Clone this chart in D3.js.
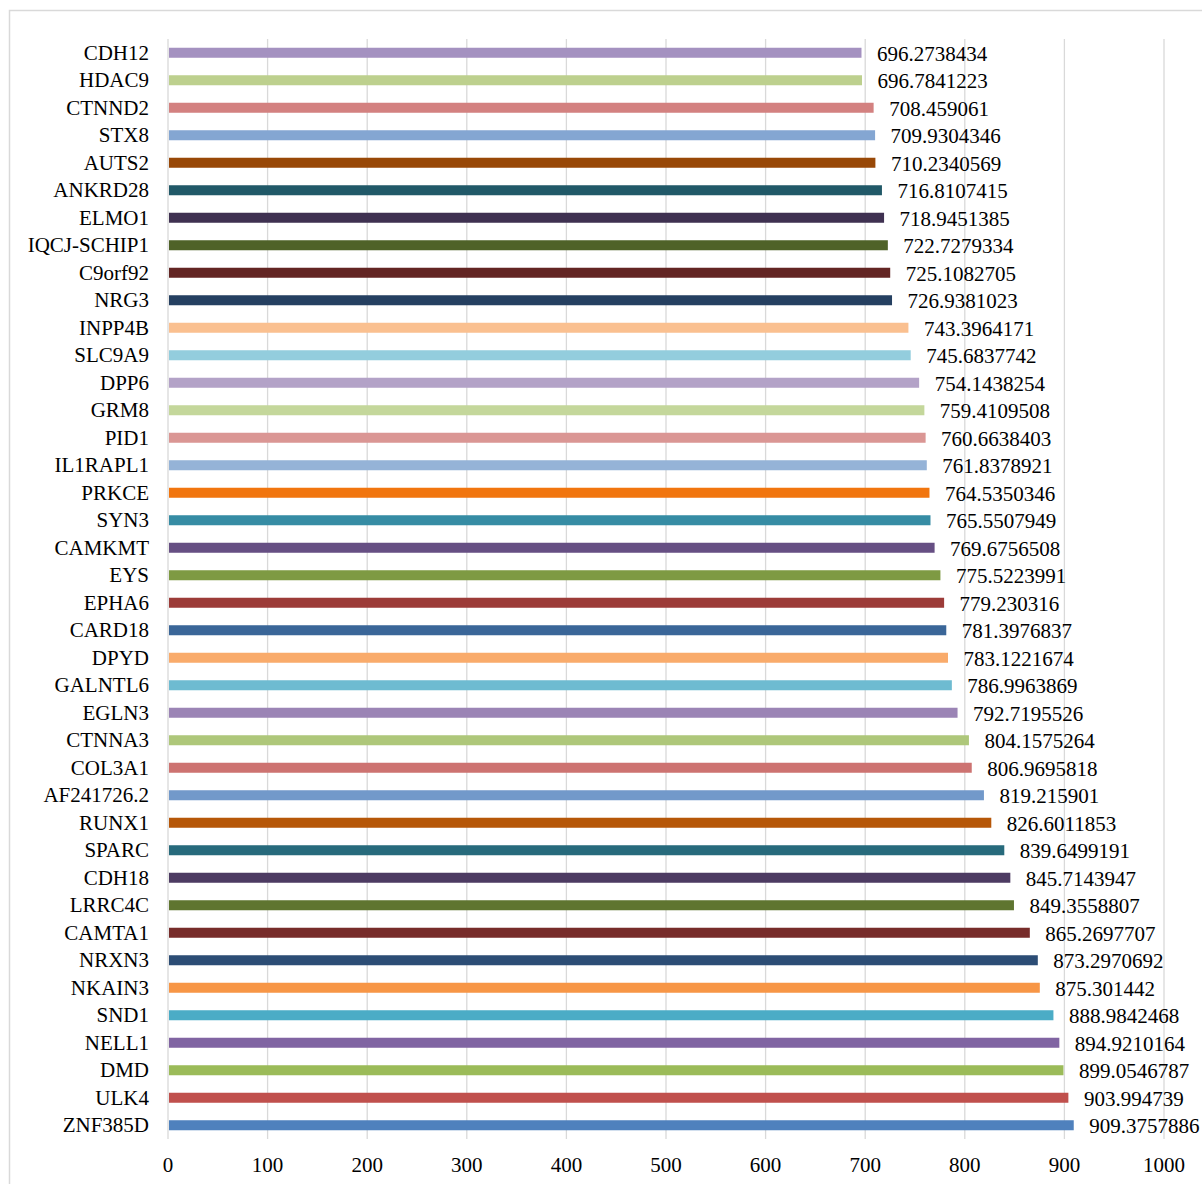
<!DOCTYPE html>
<html>
<head>
<meta charset="utf-8">
<script src="https://cdn.jsdelivr.net/npm/d3@7/dist/d3.min.js"></script>
<style>
  html, body { margin: 0; padding: 0; background: #fff; }
  svg { display: block; }
  text { font-family: "Liberation Serif", "Times New Roman", serif; fill: #000; }
</style>
</head>
<body>
<svg id="chart" width="1202" height="1184"></svg>
<script>
const categories = ["CDH12","HDAC9","CTNND2","STX8","AUTS2","ANKRD28","ELMO1","IQCJ-SCHIP1","C9orf92","NRG3","INPP4B","SLC9A9","DPP6","GRM8","PID1","IL1RAPL1","PRKCE","SYN3","CAMKMT","EYS","EPHA6","CARD18","DPYD","GALNTL6","EGLN3","CTNNA3","COL3A1","AF241726.2","RUNX1","SPARC","CDH18","LRRC4C","CAMTA1","NRXN3","NKAIN3","SND1","NELL1","DMD","ULK4","ZNF385D"];
const values = [696.2738434,696.7841223,708.459061,709.9304346,710.2340569,716.8107415,718.9451385,722.7279334,725.1082705,726.9381023,743.3964171,745.6837742,754.1438254,759.4109508,760.6638403,761.8378921,764.5350346,765.5507949,769.6756508,775.5223991,779.230316,781.3976837,783.1221674,786.9963869,792.7195526,804.1575264,806.9695818,819.215901,826.6011853,839.6499191,845.7143947,849.3558807,865.2697707,873.2970692,875.301442,888.9842468,894.9210164,899.0546787,903.994739,909.3757886];
const valueLabels = ["696.2738434","696.7841223","708.459061","709.9304346","710.2340569","716.8107415","718.9451385","722.7279334","725.1082705","726.9381023","743.3964171","745.6837742","754.1438254","759.4109508","760.6638403","761.8378921","764.5350346","765.5507949","769.6756508","775.5223991","779.230316","781.3976837","783.1221674","786.9963869","792.7195526","804.1575264","806.9695818","819.215901","826.6011853","839.6499191","845.7143947","849.3558807","865.2697707","873.2970692","875.301442","888.9842468","894.9210164","899.0546787","903.994739","909.3757886"];
const colors = ["#A491C0","#BDD08E","#D38180","#84A6D2","#984807","#215968","#3F3151","#4F6228","#632523","#254061","#FAC090","#93CDDD","#B3A2C7","#C4D79B","#DA9694","#95B3D7","#F1750E","#368CA4","#664F83","#7E9A43","#9C3B38","#3A6698","#F9AB6B","#6EBBD1","#9B84B5","#AEC77A","#CD7371","#7299CA","#B65708","#276A7C","#4D3B62","#5F7530","#772C2A","#2C4D75","#F79646","#4BACC6","#8064A2","#9BBB59","#C0504D","#4F81BD"];
const tickValues = [0,100,200,300,400,500,600,700,800,900,1000];

const svg = d3.select("#chart");

// outer chart border
svg.append("rect")
  .attr("x", 9.5).attr("y", 10.5)
  .attr("width", 1210).attr("height", 1200)
  .attr("fill", "none").attr("stroke", "#d9d9d9").attr("stroke-width", 1.5);

const x = d3.scaleLinear().domain([0, 1000]).range([168, 1164]);
const y = d3.scaleBand().domain(categories).range([39, 1139]).paddingInner(0.636).paddingOuter(0.318);

// gridlines
svg.append("g").selectAll("line").data(tickValues).join("line")
  .attr("x1", d => x(d)).attr("x2", d => x(d))
  .attr("y1", 39).attr("y2", 1139)
  .attr("stroke", "#d9d9d9").attr("stroke-width", 1.3);

// x-axis tick labels
svg.append("g").selectAll("text").data(tickValues).join("text")
  .attr("x", d => x(d)).attr("y", 1172)
  .attr("text-anchor", "middle")
  .attr("font-size", 21)
  .text(d => d);

// bars
svg.append("g").selectAll("rect").data(categories).join("rect")
  .attr("x", x(0) + 1)
  .attr("y", d => y(d))
  .attr("width", (d, i) => x(values[i]) - x(0) - 1)
  .attr("height", y.bandwidth())
  .attr("fill", (d, i) => colors[i]);

// category labels
svg.append("g").selectAll("text").data(categories).join("text")
  .attr("x", 149)
  .attr("y", d => y(d) + y.bandwidth() / 2 + 7)
  .attr("text-anchor", "end")
  .attr("font-size", 21)
  .text(d => d);

// value labels
svg.append("g").selectAll("text").data(categories).join("text")
  .attr("x", (d, i) => x(values[i]) + 15.5)
  .attr("y", d => y(d) + y.bandwidth() / 2 + 8)
  .attr("text-anchor", "start")
  .attr("font-size", 21)
  .text((d, i) => valueLabels[i]);
</script>
</body>
</html>
